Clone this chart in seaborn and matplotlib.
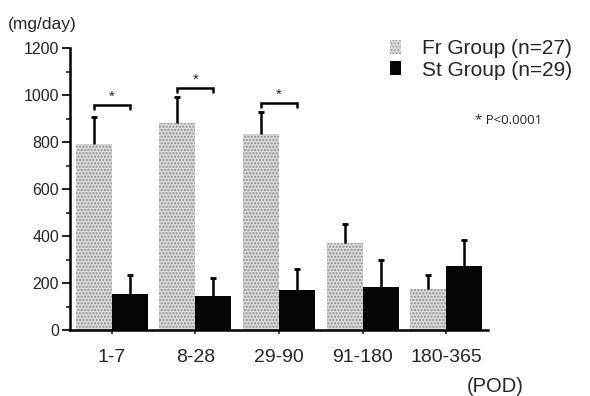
import numpy as np
import pandas as pd
import matplotlib
matplotlib.use('Agg')
import matplotlib.pyplot as plt
import seaborn as sns

# data (mg/day, mean and upper SD)
periods = ['1-7', '8-28', '29-90', '91-180', '180-365']
groups = ['Fr Group (n=27)', 'St Group (n=29)']
fr_mean = [790, 880, 832, 372, 175]
fr_sd = [116, 111, 96, 79, 59]
st_mean = [152, 145, 170, 185, 272]
st_sd = [82, 76, 90, 113, 111]

# significant pairs: period index, bracket level
sig_idx = [0, 1, 2]
sig_level = [957, 1030, 966]

sns.set_style('white')
plt.rcParams['font.family'] = ['Liberation Sans', 'DejaVu Sans']

df = pd.DataFrame({
    'period': periods * 2,
    'group': [groups[0]] * len(periods) + [groups[1]] * len(periods),
    'value': fr_mean + st_mean,
})

fig, ax = plt.subplots(figsize=(5.9, 3.96), dpi=100)
fig.subplots_adjust(left=70 / 590, right=488 / 590, bottom=66 / 396, top=348 / 396)

sns.barplot(data=df, x='period', y='value', hue='group', order=periods,
            hue_order=groups, palette=['#dadada', '#050505'], width=0.86,
            errorbar=None, legend=False, ax=ax, linewidth=0, saturation=1)

# stippled texture on the Fr bars
plt.rcParams['hatch.linewidth'] = 0.7
for bar in ax.containers[0]:
    bar.set_hatch('.....')
    bar.set_edgecolor('#8c8c8c')
    bar.set_linewidth(0)

# one-sided error bars (upper cap only)
for cont, sds in zip(ax.containers, [fr_sd, st_sd]):
    xs = [b.get_x() + b.get_width() / 2 for b in cont]
    hs = [b.get_height() for b in cont]
    eb = ax.errorbar(xs, hs, yerr=[np.zeros(len(sds)), sds], fmt='none',
                     ecolor='black', elinewidth=1.8, capsize=2.5, capthick=2)
    eb[1][0].set_visible(False)

# significance brackets
fr_x = [b.get_x() + b.get_width() / 2 for b in ax.containers[0]]
st_x = [b.get_x() + b.get_width() / 2 for b in ax.containers[1]]
for i, lvl in zip(sig_idx, sig_level):
    ax.plot([fr_x[i], fr_x[i], st_x[i], st_x[i]], [lvl - 16, lvl, lvl, lvl - 16],
            color='black', lw=1.8, solid_joinstyle='miter')
    ax.text((fr_x[i] + st_x[i]) / 2, lvl + 4, '*', ha='center', va='bottom',
            fontsize=11)

ax.set_xlim(-0.5, 4.5)
ax.set_ylim(0, 1200)
ax.set_yticks(range(0, 1201, 200))
ax.set_yticks(range(100, 1200, 200), minor=True)
ax.set_xlabel('')
ax.set_ylabel('')
sns.despine(ax=ax)
for s in ['left', 'bottom']:
    ax.spines[s].set_linewidth(1.8)
    ax.spines[s].set_color('black')
ax.tick_params(axis='y', which='major', direction='out', length=6, width=1.5,
               labelsize=11.5, pad=2, left=True)
ax.tick_params(axis='y', which='minor', direction='out', length=3, width=1.2,
               left=True)
ax.tick_params(axis='x', direction='out', length=3, width=1.2, labelsize=14,
               pad=11, bottom=True)

fig.text(8 / 590, 1 - 25 / 396, '(mg/day)', fontsize=12.5, va='center', ha='left')
fig.text(467 / 590, 1 - 387 / 396, '(POD)', fontsize=14.5, va='center', ha='left')
fig.text(475 / 590, 1 - 120 / 396, '* P<0.0001', fontsize=9.5, va='center',
         ha='left', family=['Open Sans', 'DejaVu Sans'])

leg = ax.legend(handles=list(ax.containers), labels=groups, frameon=False,
                loc='upper left', bbox_to_anchor=(390 / 590, 1 - 39 / 396),
                bbox_transform=fig.transFigure, fontsize=15, handlelength=0.55,
                handleheight=0.65, handletextpad=1.0, labelspacing=0.12,
                borderpad=0, borderaxespad=0)

fig.savefig('out.png', dpi=100)
